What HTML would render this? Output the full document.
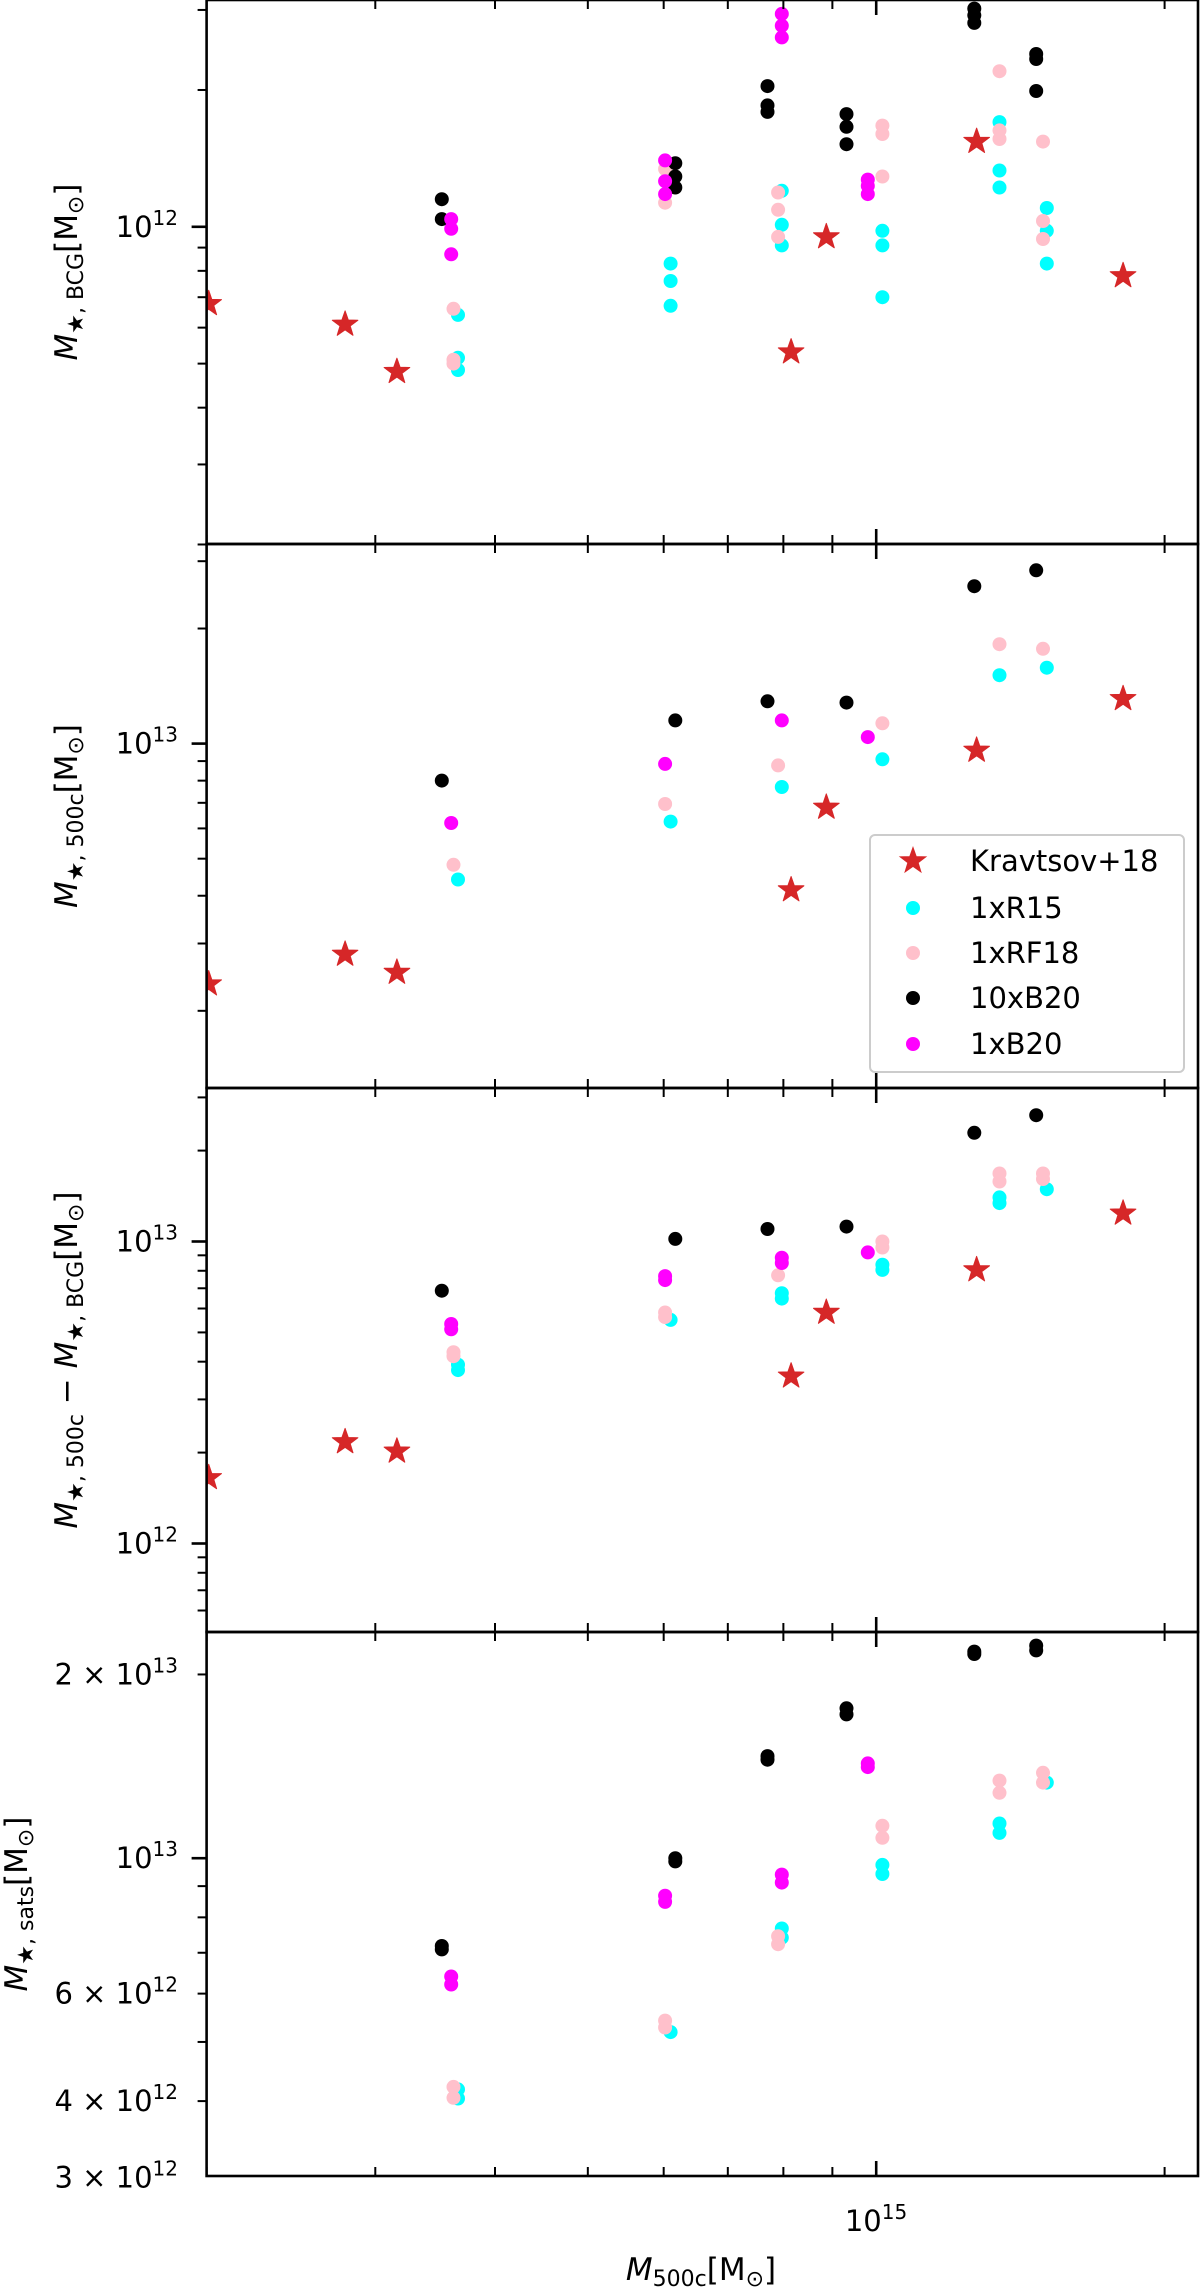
<!DOCTYPE html>
<html><head><meta charset="utf-8"><style>
html,body{margin:0;padding:0;background:#fff;}
svg{display:block;font-family:"DejaVu Sans","Liberation Sans",sans-serif;}
</style></head><body>
<svg id="chart" width="1200" height="2291" viewBox="0 0 1200 2291" xmlns="http://www.w3.org/2000/svg"></svg>
<script>
// x: M500c in 1e14 Msun ; y values in 1e12 Msun
const starX = [2.01,2.79,3.16,8.15,8.87,12.73,18.1];
const starBCG = [0.677,0.61,0.48,0.53,0.95,1.54,0.78];
const star500 = [2.35,2.81,2.52,4.14,6.81,9.6,13.1];
const starDiff = [1.65,2.17,2.02,3.58,5.82,8.05,12.4];

const cyanX = [3.66,6.10,7.97,10.15,13.45,15.07];
const cyanBCG = [[0.64,0.515,0.484],[0.83,0.76,0.67],[1.2,1.01,0.91],[0.98,0.91,0.70],[1.70,1.33,1.22],[1.10,0.98,0.83]];
const cyan500 = [[4.41],[6.25],[7.7],[9.1],[15.1],[15.8]];
const cyanDiff = [[3.91,3.75],[5.5],[6.74,6.47],[8.38,8.05],[14.0,13.4],[14.9]];
const cyanSats = [[4.18,4.04],[5.19],[7.67,7.41],[9.75,9.42],[11.4,11.0],[13.3]];

const pinkX = [3.62,6.02,7.90,10.15,13.45,14.93];
const pinkBCG = [[0.66,0.51,0.50],[1.34,1.13],[1.19,1.09,0.95],[1.67,1.60,1.29],[2.20,1.63,1.56],[1.54,1.03,0.94]];
const pink500 = [[4.82],[6.95],[8.77],[11.3],[18.2],[17.7]];
const pinkDiff = [[4.3,4.17],[5.82,5.62],[7.73],[10.0,9.55],[16.8,15.8],[16.8,16.1]];
const pinkSats = [[4.22,4.05],[5.42,5.28],[7.45,7.23],[11.3,10.8],[13.4,12.8],[13.8,13.3]];

const blackX = [3.52,6.17,7.70,9.31,12.66,14.69];
const blackBCG = [[1.15,1.04],[1.38,1.29,1.22],[2.04,1.85,1.79],[1.77,1.66,1.52],[3.02,2.92,2.81],[2.40,2.34,1.99]];
const black500 = [[8.0],[11.5],[12.9],[12.8],[25.8],[28.4]];
const blackDiff = [[6.87],[10.2],[11.0],[11.2],[22.9],[26.2]];
const blackSats = [[7.18,7.09],[10.0,9.88],[14.7,14.5],[17.6,17.2],[21.8,21.6],[22.3,21.9]];

const magX = [3.60,6.02,7.97,9.80];
const magBCG = [[1.04,0.99,0.87],[1.40,1.26,1.18],[2.94,2.77,2.61],[1.27,1.23,1.18]];
const mag500 = [[6.2],[8.85],[11.5],[10.4]];
const magDiff = [[5.33,5.12],[7.68,7.45],[8.84,8.49],[9.2]];
const magSats = [[6.4,6.21],[8.68,8.48],[9.4,9.12],[14.3,14.1]];

const legendLabels = ["Kravtsov+18","1xR15","1xRF18","10xB20","1xB20"];

const NS="http://www.w3.org/2000/svg";
const svg=document.getElementById('chart');
function mk(tag,attrs,parent){const e=document.createElementNS(NS,tag);for(const k in attrs)e.setAttribute(k,attrs[k]);(parent||svg).appendChild(e);return e;}

const XL=206.6, XR=1198, XLOG0=14+Math.log10(2), XPD=958;
function xs(v){return XL+(Math.log10(v*1e14)-XLOG0)*XPD;}
const R=7;

const panels=[
 {name:'bcg',top:0,bot:544,ref:12,refY:226.8,dec:454.5,
  stars:starBCG,c:cyanBCG,p:pinkBCG,b:blackBCG,m:magBCG,
  labels:[[1,'','12']], title:['★, BCG'], lx:66},
 {name:'total',top:544,bot:1088,ref:13,refY:743.6,dec:382.3,
  stars:star500,c:cyan500,p:pink500,b:black500,m:mag500,
  labels:[[10,'','13']], title:['★, 500c'], lx:66},
 {name:'diff',top:1088,bot:1632,ref:13,refY:1241.5,dec:302,
  stars:starDiff,c:cyanDiff,p:pinkDiff,b:blackDiff,m:magDiff,
  labels:[[10,'','13'],[1,'','12']], title:['★, 500c'], diff:true, lx:66},
 {name:'sats',top:1632,bot:2176,ref:13,refY:1858.2,dec:610.4,
  stars:null,c:cyanSats,p:pinkSats,b:blackSats,m:magSats,
  labels:[[20,'2 × ','13'],[10,'','13'],[6,'6 × ','12'],[4,'4 × ','12'],[3,'3 × ','12']], title:['★, sats'], lx:16}
];

function starPath(cx,cy,Rr){const r=Rr*0.4;let d='';for(let i=0;i<10;i++){const a=-Math.PI/2+i*Math.PI/5;const rr=i%2?r:Rr;d+=(i?'L':'M')+(cx+rr*Math.cos(a)).toFixed(1)+','+(cy+rr*Math.sin(a)).toFixed(1);}return d+'Z';}

panels.forEach((P,pi)=>{
  const ys=v=>P.refY-(Math.log10(v*1e12)-P.ref)*P.dec;
  const g=mk('g',{});
  
  
  const cp=mk('clipPath',{id:'clip'+pi},g);
  mk('rect',{x:XL,y:P.top,width:XR-XL,height:P.bot-P.top},cp);
  const pts=mk('g',{'clip-path':'url(#clip'+pi+')'},g);
  
  
  const series=[['cyan',cyanX,P.c,'#00ffff'],['pink',pinkX,P.p,'#ffc0cb'],['black',blackX,P.b,'#000000'],['magenta',magX,P.m,'#ff00ff']];
  series.forEach(([nm,X,Y,col])=>{
    X.forEach((xv,i)=>{Y[i].forEach(yv=>{
      const c=mk('circle',{cx:xs(xv).toFixed(1),cy:ys(yv).toFixed(1),r:R,fill:col},pts);
      
      
    });});
  });
  if(P.stars){P.stars.forEach((yv,i)=>{
    const s=mk('path',{d:starPath(xs(starX[i]),ys(yv),13.5),fill:'#d62728',stroke:'#d62728','stroke-width':1,'stroke-linejoin':'round'},pts);
    
    
  });}
  const lo=Math.floor(P.ref-(P.bot-P.refY)/P.dec), hi=Math.ceil(P.ref+(P.refY-P.top)/P.dec);
  for(let e=lo;e<=hi;e++){for(let m=1;m<10;m++){
    const y=P.refY-(e+Math.log10(m)-P.ref)*P.dec;
    if(y<P.top-0.5||y>P.bot+0.5)continue;
    const L=m===1?15:9;
    const t=mk('line',{x1:XL-L,x2:XL,y1:y,y2:y,stroke:'#000','stroke-width':m===1?2.6:2},g);
    
    
  }}
  for(let e=14;e<=15;e++){for(let m=1;m<10;m++){
    const x=XL+(e+Math.log10(m)-XLOG0)*XPD;
    if(x<XL-0.5||x>XR)continue;
    const L=(m===1)?15:9;
    [[P.top,P.top+L],[P.bot,P.bot-L]].forEach(([a,b])=>{
      const t=mk('line',{x1:x,x2:x,y1:a,y2:b,stroke:'#000','stroke-width':m===1?2.6:2},g);
      
      
    });
  }}
  P.labels.forEach(([v,pre,ex])=>{
    const y=ys(v);
    const t=mk('text',{x:178,y:y+10,'text-anchor':'end','font-size':29,fill:'#000'},g);
    
    
    t.innerHTML=pre+'10<tspan dy="-12" font-size="20">'+ex+'</tspan>';
  });
  const sp=mk('rect',{x:XL,y:P.top,width:XR-XL,height:P.bot-P.top,fill:'none',stroke:'#000','stroke-width':2.6},g);
  
  
  const cy=(P.top+P.bot)/2;
  const tt=mk('text',{x:0,y:0,'text-anchor':'middle','font-size':31,fill:'#000',transform:'translate('+(P.lx+11)+','+cy+') rotate(-90)'},g);
  
  
  let h='<tspan font-style="italic">M</tspan><tspan font-size="22" dy="6">'+P.title[0]+'</tspan>';
  if(P.diff) h+='<tspan dy="-6"> − </tspan><tspan font-style="italic">M</tspan><tspan font-size="22" dy="6">★, BCG</tspan>';
  h+='<tspan dy="-6">[M</tspan><tspan font-size="22" dy="6">⊙</tspan><tspan dy="-6">]</tspan>';
  tt.innerHTML=h;
});

const xl=mk('text',{x:876,y:2231,'text-anchor':'middle','font-size':29,fill:'#000'});


xl.innerHTML='10<tspan dy="-12" font-size="20">15</tspan>';
const xt=mk('text',{x:701,y:2280,'text-anchor':'middle','font-size':31,fill:'#000'});


xt.innerHTML='<tspan font-style="italic">M</tspan><tspan font-size="22" dy="6">500c</tspan><tspan dy="-6">[M</tspan><tspan font-size="22" dy="6">⊙</tspan><tspan dy="-6">]</tspan>';

const lg=mk('g',{});


mk('rect',{x:870,y:835,width:314,height:237,rx:5,fill:'#fff','fill-opacity':0.85,stroke:'#cccccc','stroke-width':2},lg);
const legCols=['#d62728','#00ffff','#ffc0cb','#000000','#ff00ff'];
const legY=[861,908,953,998,1044];
legendLabels.forEach((lab,i)=>{
  const e=mk('g',{},lg);
  
  
  if(i===0) mk('path',{d:starPath(913,legY[i],13.5),fill:legCols[i],stroke:legCols[i],'stroke-width':1},e);
  else mk('circle',{cx:913,cy:legY[i],r:R,fill:legCols[i]},e);
  const t=mk('text',{x:970,y:legY[i]+10,'font-size':29,fill:'#000'},e);
  t.textContent=lab;
});
</script>
</body></html>
